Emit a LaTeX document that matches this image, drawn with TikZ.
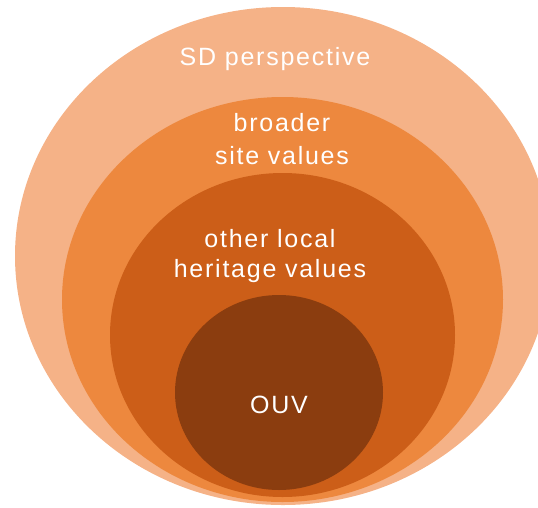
\documentclass[tikz,border=0pt]{standalone}
\usepackage{fontspec}
\setmainfont{Liberation Sans}
\newfontfamily\ringfont[LetterSpace=7]{Liberation Sans}
\definecolor{ringA}{RGB}{245,178,135}
\definecolor{ringB}{RGB}{237,136,62}
\definecolor{ringC}{RGB}{204,94,24}
\definecolor{ringD}{RGB}{139,61,15}
\usetikzlibrary{positioning}
\tikzset{
  ringlabel/.style={text=white,inner sep=0pt,anchor=base,align=center,
    font=\ringfont\fontsize{25}{33}\selectfont}
}

\begin{document}
\begin{tikzpicture}[x=1pt,y=-1pt]
        \useasboundingbox (0,0) rectangle (538,507);
        \clip (0,0) rectangle (538,507);
        % nested value rings, largest first
        \fill[ringA] (283,256) ellipse [x radius=268,y radius=249];
        \fill[ringB] (282.5,299.5) ellipse [x radius=220.5,y radius=202.5];
        \fill[ringC] (282.5,335) ellipse [x radius=172.5,y radius=162];
        \fill[ringD] (279,392.5) ellipse [x radius=104,y radius=97.5];
        % base anchor sits on the last line of a two-line label
        \node[ringlabel] (sd) at (275,65) {SD perspective};
        \node[ringlabel] (site) at (282,164) {broader\\site values};
        \node[ringlabel,font=\ringfont\fontsize{25}{30}\selectfont] (local) at (270,277) {other local\\heritage values};
        \node[ringlabel] (ouv) at (279,413) {OUV};
      \end{tikzpicture}
\end{document}
